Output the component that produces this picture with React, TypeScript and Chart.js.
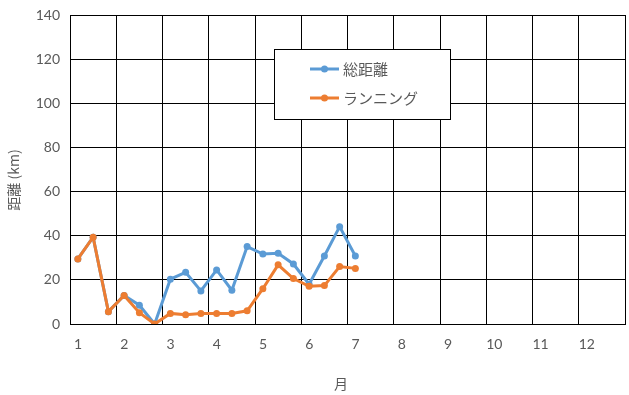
import React, { useEffect, useRef } from "react";
import { Chart, registerables } from "chart.js";

Chart.register(...registerables);

// x positions: month + 10-day period (early / mid / late)
const xMonths = [1.17, 1.5, 1.83, 2.17, 2.5, 2.83, 3.17, 3.5, 3.83, 4.17, 4.5, 4.83, 5.17, 5.5, 5.83, 6.17, 6.5, 6.83, 7.17];
const totalDistance = [29.5, 39.3, 5.6, 12.9, 8.5, 0, 20.3, 23.4, 15.0, 24.5, 15.3, 35.1, 31.7, 32.0, 27.2, 18.0, 30.8, 44.1, 30.8];
const runningDistance = [29.5, 39.3, 5.6, 12.9, 5.1, 0, 4.8, 4.2, 4.8, 4.8, 4.8, 6.0, 16.0, 26.8, 20.6, 17.1, 17.4, 26.0, 25.2];
const seriesNames = ["総距離", "ランニング"];
const seriesColors = ["#5B9BD5", "#ED7D31"];
const xTitle = "月";
const yTitle = "距離 (km)";
const xMin = 1, xMax = 13, xLastLabel = 12;
const yMin = 0, yMax = 140, yStep = 20;

const TEXT = "#595959";
const NUM_FONT = 'Lato, "Noto Sans CJK JP", sans-serif';
const JP_FONT = '"Noto Sans CJK JP", "Noto Sans", sans-serif';

export default function App() {
  const ref = useRef<HTMLCanvasElement | null>(null);
  useEffect(() => {
    document.body.style.margin = "0";
    const canvas = ref.current!;
    const overlay = {
      id: "overlay",
      afterDraw(chart: any) {
        const ctx = chart.ctx;
        ctx.save();
        // legend box
        const bx = 274.5, by = 49.5, bw = 176, bh = 70;
        ctx.fillStyle = "#fff";
        ctx.fillRect(bx, by, bw, bh);
        ctx.strokeStyle = "#000";
        ctx.lineWidth = 1;
        ctx.strokeRect(bx, by, bw, bh);
        const rows = [69, 98];
        seriesNames.forEach((name, i) => {
          const y = rows[i];
          ctx.strokeStyle = seriesColors[i];
          ctx.lineWidth = 3;
          ctx.beginPath();
          ctx.moveTo(310, y);
          ctx.lineTo(339, y);
          ctx.stroke();
          ctx.fillStyle = seriesColors[i];
          ctx.beginPath();
          ctx.arc(324.5, y, 3.5, 0, Math.PI * 2);
          ctx.fill();
          ctx.fillStyle = TEXT;
          ctx.font = `15px ${JP_FONT}`;
          ctx.textAlign = "left";
          ctx.textBaseline = "middle";
          ctx.fillText(name, 343, y);
        });
        // axis titles
        ctx.fillStyle = TEXT;
        ctx.font = `14px ${JP_FONT}`;
        ctx.textAlign = "center";
        ctx.textBaseline = "middle";
        ctx.fillText(xTitle, 341, 384);
        ctx.translate(13.5, 180);
        ctx.rotate(-Math.PI / 2);
        ctx.fillText(yTitle, 0, 0);
        ctx.restore();
      },
    };
    const mk = (vals: number[]) => vals.map((v, i) => ({ x: xMonths[i], y: v }));
    const chart = new Chart(canvas, {
      type: "line",
      data: {
        datasets: [
          {
            label: seriesNames[0],
            data: mk(totalDistance),
            borderColor: seriesColors[0],
            backgroundColor: seriesColors[0],
            borderWidth: 3,
            pointRadius: 3.5,
            pointBorderWidth: 0,
            tension: 0,
            order: 2,
          },
          {
            label: seriesNames[1],
            data: mk(runningDistance),
            borderColor: seriesColors[1],
            backgroundColor: seriesColors[1],
            borderWidth: 3,
            pointRadius: 3.5,
            pointBorderWidth: 0,
            tension: 0,
            order: 1,
          },
        ],
      },
      options: {
        responsive: false,
        animation: false,
        devicePixelRatio: 1,
        layout: { padding: { left: 0, right: 3, top: 15, bottom: 0 } },
        plugins: { legend: { display: false }, tooltip: { enabled: false } },
        scales: {
          x: {
            type: "linear",
            min: xMin,
            max: xMax,
            afterFit: (s: any) => {
              s.height = 71;
              s.paddingLeft = 0;
              s.paddingRight = 0;
            },
            grid: { color: "#000", lineWidth: 1, drawTicks: false },
            border: { color: "#000", width: 1 },
            ticks: {
              stepSize: 1,
              padding: 12,
              labelOffset: 8,
              color: TEXT,
              font: { family: NUM_FONT, size: 14 },
              maxRotation: 0,
              callback: (v: any) => (v <= xLastLabel ? String(v) : ""),
            },
          },
          y: {
            min: yMin,
            max: yMax,
            afterFit: (s: any) => {
              s.width = 70;
              s.paddingTop = 0;
              s.paddingBottom = 0;
            },
            grid: { color: "#000", lineWidth: 1, drawTicks: false },
            border: { color: "#000", width: 1 },
            ticks: {
              stepSize: yStep,
              padding: 10,
              color: TEXT,
              font: { family: NUM_FONT, size: 14 },
            },
          },
        },
      },
      plugins: [overlay],
    });
    return () => chart.destroy();
  }, []);
  return (
    <div style={{ width: 629, height: 395 }}>
      <canvas ref={ref} width={629} height={395} style={{ display: "block" }} />
    </div>
  );
}
